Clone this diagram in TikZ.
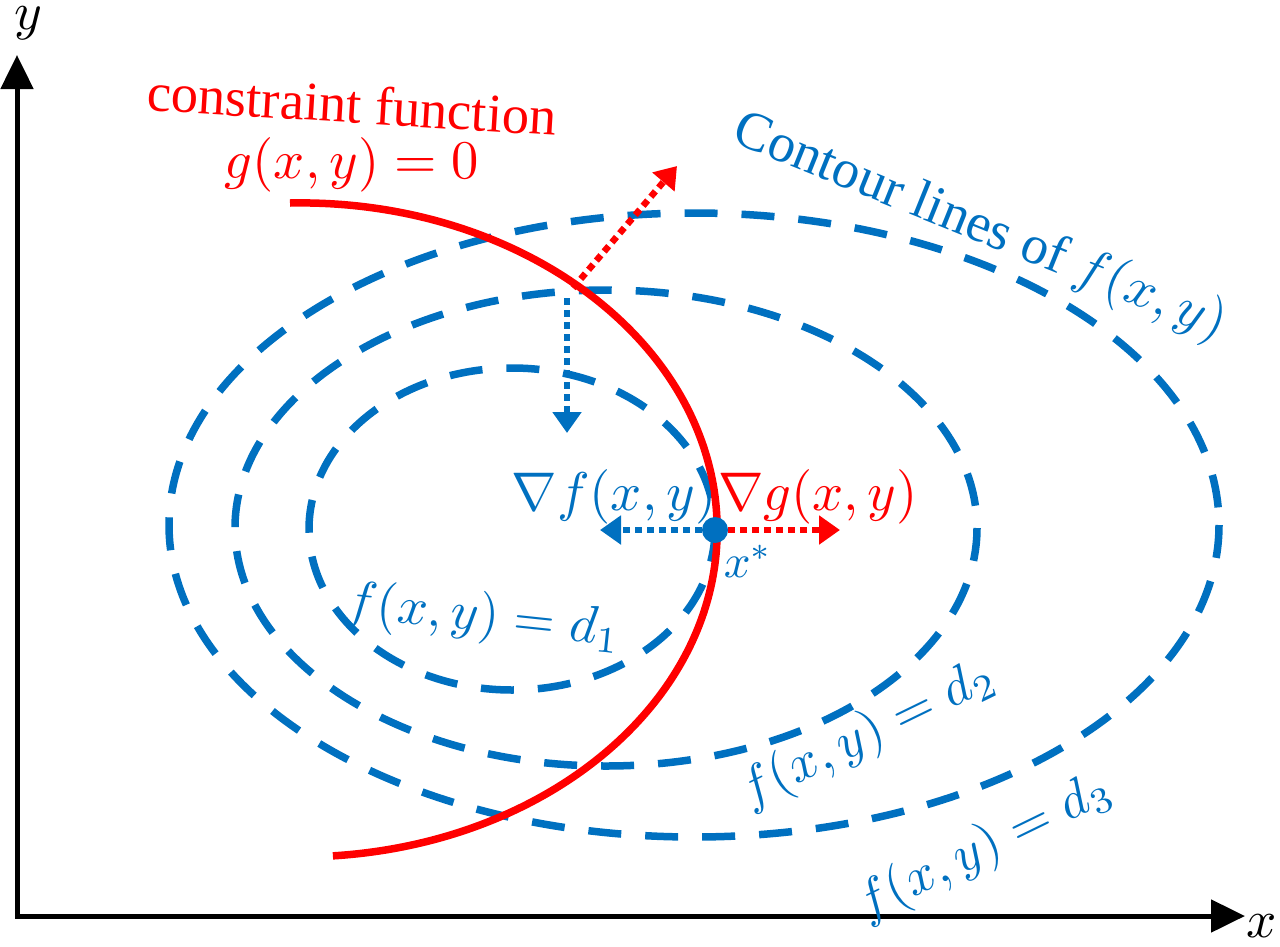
\documentclass[tikz,border=0pt]{standalone}
\usepackage{fontspec}
\setmainfont{Liberation Serif}
\usetikzlibrary{arrows.meta}
\definecolor{cblue}{RGB}{0,112,192}
\definecolor{cred}{RGB}{255,0,0}
\begin{document}
\begin{tikzpicture}[x=1pt,y=-1pt,
  contour/.style={cblue, line width=7.5pt, dash pattern=on 33pt off 24pt},
  axisline/.style={black, line width=5pt, line join=miter,
    {Triangle[length=34pt,width=32pt]}-{Triangle[length=34pt,width=32pt]}},
  dotarrow/.style={line width=6.5pt, dash pattern=on 7pt off 5pt,
    -{Triangle[length=21pt,width=28pt]}},
  lbl/.style={inner sep=0pt, scale=5.3},
  biglbl/.style={inner sep=0pt, scale=5.45},
  smalllbl/.style={inner sep=0pt, scale=4.7},
]
\useasboundingbox (0,0) rectangle (1280,946);
% axes
\coordinate (O) at (17,916);
\coordinate (ytip) at (17,55);
\coordinate (xtip) at (1245,916);
\draw[axisline] (ytip) -- (O) -- (xtip);
\node[lbl] (ylab) at (28,23) {$y$};
\node[lbl] (xlab) at (1262,926) {$x$};
% contour ellipses
\draw[contour] (512,529) ellipse[x radius=203, y radius=161];
\draw[contour] (606,528) ellipse[x radius=371, y radius=238];
\draw[contour] (694,525) ellipse[x radius=525, y radius=312];
% constraint curve
\draw[cred, line width=7.5pt] (290,203) arc[start angle=-91.4, end angle=85.5, x radius=417, y radius=327];
% gradient arrows at intersection point
\coordinate (P) at (573,288);
\coordinate (gtipP) at (677,166);
\coordinate (fstartP) at (567,298);
\coordinate (ftipP) at (567,433);
\draw[cred, dotarrow] (P) -- (gtipP);
\draw[cblue, dotarrow] (fstartP) -- (ftipP);
% optimum point
\node[circle, fill=cblue, minimum size=26pt, inner sep=0pt] (xs) at (715,530) {};
\coordinate (ftip) at (600,530);
\coordinate (gtip) at (840,530);
\draw[cblue, dotarrow] (xs) -- (ftip);
\draw[cred, dotarrow] (xs) -- (gtip);
% labels
\node[biglbl, cred, rotate=-3.5] (ctext) at (352,104) {constraint function};
\node[biglbl, cred] (gtext) at (352,165) {$g(x,y)=0$};
\node[biglbl, cblue, rotate=-22] (contxt) at (980,228) {Contour lines of $f(x,y)$};
\node[biglbl, cblue] (gradf) at (614,497) {$\nabla f(x,y)$};
\node[biglbl, cred] (gradg) at (818,497) {$\nabla g(x,y)$};
\node[smalllbl, cblue] (xstar) at (748,561) {$x^*$};
\node[lbl, cblue, rotate=-6] (d1) at (483,618) {$f(x,y)=d_1$};
\node[lbl, cblue, rotate=26] (d2) at (868,735) {$f(x,y)=d_2$};
\node[lbl, cblue, rotate=26] (d3) at (985,848) {$f(x,y)=d_3$};
\end{tikzpicture}
\end{document}
